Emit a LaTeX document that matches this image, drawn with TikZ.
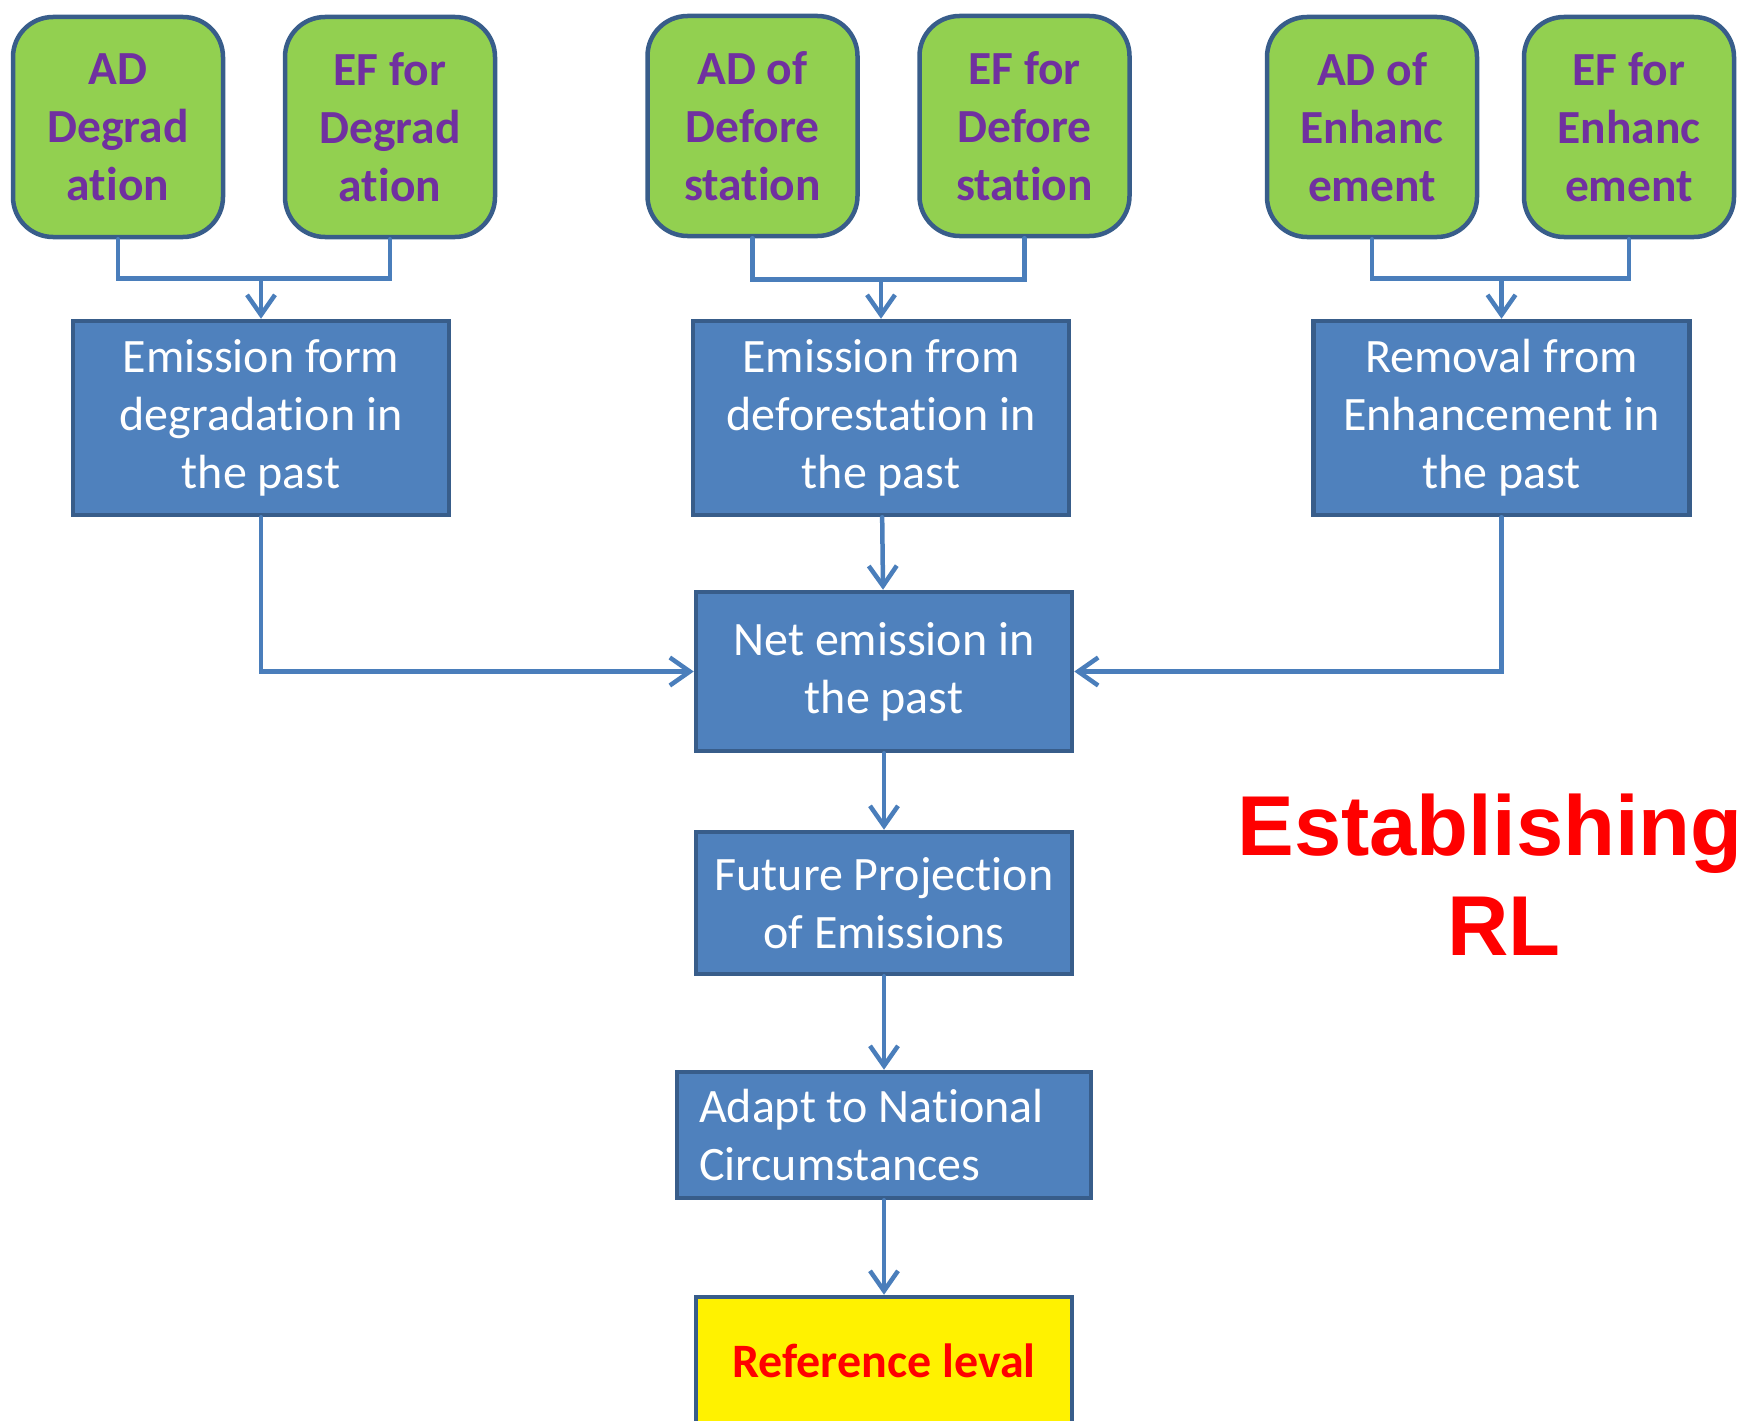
\documentclass[tikz,border=0pt]{standalone}
\usepackage{fontspec}
\setmainfont[Ligatures=NoCommon]{Carlito}
\newfontfamily\arialfont{Liberation Sans}
\usetikzlibrary{arrows.meta,positioning}
\definecolor{boxblue}{HTML}{4F81BD}
\definecolor{boxedge}{HTML}{385D8A}
\definecolor{linkblue}{HTML}{4A7EBB}
\definecolor{leafgreen}{HTML}{92D050}
\definecolor{inkpurple}{HTML}{7030A0}

\begin{document}
\begin{tikzpicture}[x=1pt,y=1pt,on grid,>={Straight Barb[length=20pt,width=28pt]},
    every node/.style={font=\fontsize{48}{58}\selectfont},
    input/.style={draw=boxedge,fill=leafgreen,line width=4.5pt,rounded corners=40pt,
        minimum width=210pt,minimum height=220pt,inner sep=0pt,align=center,
        text=inkpurple,font=\fontsize{47.5}{58}\selectfont\bfseries},
    stage/.style={draw=boxedge,fill=boxblue,line width=4.5pt,minimum width=376pt,
        minimum height=194pt,inner sep=0pt,align=center,text=white},
    link/.style={draw=linkblue,line width=4.5pt,line cap=round}]
    \useasboundingbox (0,0) rectangle (1743,-1421);
    \clip (0,0) rectangle (1743,-1421);

    % inputs
    \node[input] (adDeg) at (118,-127)   {AD\\Degrad\\ation};
    \node[input] (efDeg) at (390,-127)   {EF for\\Degrad\\ation};
    \node[input] (adDef) at (752.5,-126) {AD of\\Defore\\station};
    \node[input] (efDef) at (1024.5,-126){EF for\\Defore\\station};
    \node[input] (adEnh) at (1372,-127)  {AD of\\Enhanc\\ement};
    \node[input] (efEnh) at (1629,-127)  {EF for\\Enhanc\\ement};

    % past emissions
    \node[stage] (emDeg)  at (261,-418)    {Emission form\\degradation in\\the past};
    \node[stage] (emDef)  at (881,-418)    {Emission from\\deforestation in\\the past};
    \node[stage] (remEnh) at (1501.5,-418) {Removal from\\Enhancement in\\the past};

    % main chain
    \node[stage,minimum height=159pt] (net) at (884,-671.5) {Net emission in\\the past};
    \node[stage,minimum height=142pt] (future) [below=231.5pt of net] {Future Projection\\of Emissions};
    \node[stage,minimum width=414pt,minimum height=126pt,text width=370pt,align=flush left,inner xsep=22pt]
        (adapt) [below=232pt of future] {Adapt to National\\Circumstances};
    \node[stage,fill=yellow,minimum height=128pt,text=red,font=\fontsize{48}{58}\selectfont\bfseries]
        (ref) [below=226pt of adapt] {Reference leval};

    \node[text=red,align=center,font=\arialfont\bfseries\fontsize{85}{100}\selectfont]
        (rl) at (1490,-875) {Establishing\\\hspace*{28pt}RL};

    % connectors
    \draw[link] (adDeg.south) -- ++(0,-39) coordinate (jDeg) -| (efDeg.south);
    \draw[link,->] (emDeg.north |- jDeg) -- (emDeg.north);
    \draw[link] (adDef.south) -- ++(0,-41) coordinate (jDef) -| (efDef.south);
    \draw[link,->] (emDef.north |- jDef) -- (emDef.north);
    \draw[link] (adEnh.south) -- ++(0,-39) coordinate (jEnh) -| (efEnh.south);
    \draw[link,->] (remEnh.north |- jEnh) -- (remEnh.north);

    \draw[link,->] (emDeg.south) |- (net.west);
    \draw[link,->] (remEnh.south) |- (net.east);
    \draw[link,->] (emDef) -- (net);
    \draw[link,->] (net) -- (future);
    \draw[link,->] (future) -- (adapt);
    \draw[link,->] (adapt) -- (ref);
\end{tikzpicture}
\end{document}
